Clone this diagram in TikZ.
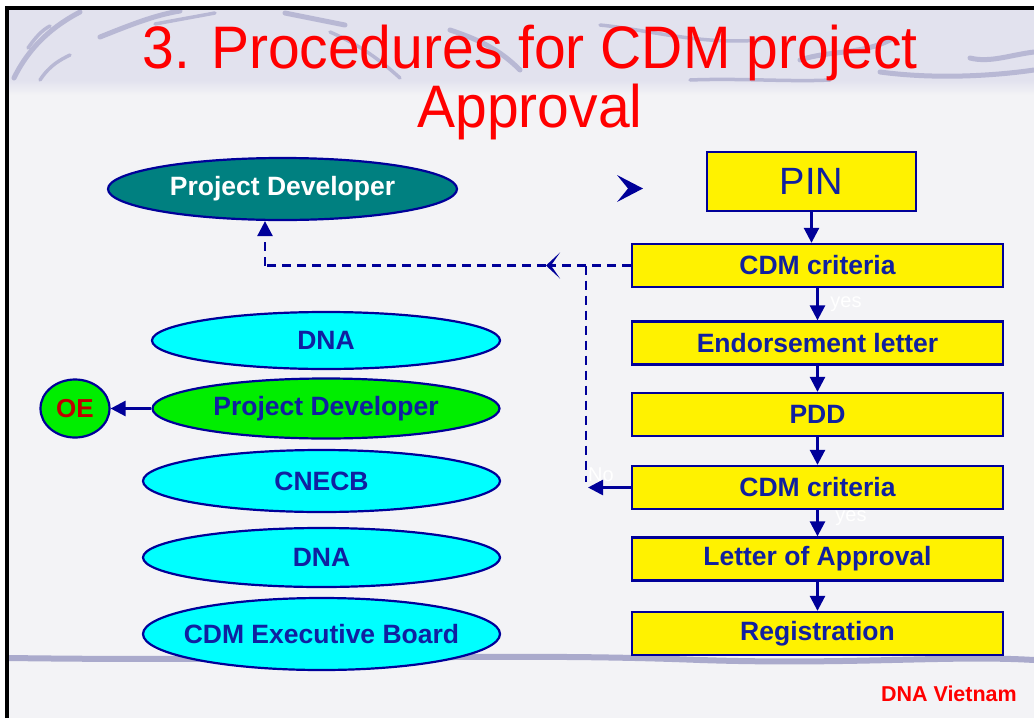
\documentclass[tikz,border=0pt]{standalone}
\usepackage{fontspec}
\setmainfont{Liberation Sans}
\newfontfamily\titlefont[FakeStretch=0.95]{Liberation Sans}
\usetikzlibrary{arrows.meta,shapes.geometric}
\definecolor{navy}{RGB}{0,0,153}
\definecolor{txtblue}{RGB}{16,32,160}
\definecolor{teal2}{RGB}{0,128,128}
\definecolor{cyan2}{RGB}{0,255,255}
\definecolor{green2}{RGB}{0,238,0}
\definecolor{oered}{RGB}{192,0,0}
\definecolor{bg}{RGB}{243,243,246}
\definecolor{band}{RGB}{226,226,238}
\definecolor{lav}{RGB}{170,170,204}
\begin{document}
\begin{tikzpicture}[x=1pt,y=-1pt,
  stepbox/.style={draw=navy, line width=2.3pt, fill=yellow, text=txtblue,
    font=\fontsize{26.5}{30}\selectfont\bfseries, minimum width=371pt,
    minimum height=43pt, inner sep=0pt},
  oval/.style={ellipse, draw=navy, line width=2.2pt, inner sep=0pt},
  lbl/.style={text=txtblue, font=\fontsize{26.5}{30}\selectfont\bfseries},
  flow/.style={draw=navy, line width=2.6pt, -{Triangle[length=15pt,width=15pt]}},
  dashln/.style={draw=navy, line width=2.6pt, dash pattern=on 9pt off 6pt},
  wlbl/.style={text=white, font=\fontsize{20}{22}\selectfont, inner sep=0pt},
  deco/.style={draw=lav, line width=5pt, line cap=round, opacity=0.75}]
\useasboundingbox (0,0) rectangle (1034,718);
% background
\fill[white] (0,0) rectangle (1034,718);
\fill[bg] (9,10) rectangle (1034,718);
\fill[band] (9,10) rectangle (1034,80);
\shade[top color=band, bottom color=bg] (9,80) rectangle (1034,95);
% decorative strokes
\draw[deco] (14,78) .. controls (30,45) and (55,25) .. (80,12);
\draw[deco, line width=3.5pt] (28,48) .. controls (35,38) and (42,30) .. (50,26);
\draw[deco, line width=3.5pt] (40,80) .. controls (50,65) and (60,60) .. (70,55);
\draw[deco] (100,37) .. controls (130,25) and (155,15) .. (180,11);
\draw[deco, line width=3.5pt] (155,24) -- (215,13);
\draw[deco] (285,13) .. controls (310,18) and (330,22) .. (345,25);
\draw[deco, line width=3.5pt] (330,32) .. controls (360,45) and (380,60) .. (400,78);
\draw[deco] (520,70) .. controls (500,50) and (480,40) .. (450,30);
\draw[deco, line width=3.5pt] (600,25) .. controls (650,30) and (700,45) .. (760,40);
\draw[deco] (800,60) .. controls (830,50) and (860,55) .. (890,40);
\draw[deco] (880,72) .. controls (940,80) and (1000,75) .. (1034,70);
\draw[deco] (970,58) .. controls (990,63) and (1010,55) .. (1034,52);
\draw[deco, line width=3.5pt] (690,80) .. controls (740,78) and (790,82) .. (830,80);
% bottom wavy line
\draw[draw=lav, line width=6pt] (9,658) .. controls (300,662) and (500,652) .. (700,660) .. controls (850,665) and (950,655) .. (1034,660);
% frame
\draw[line width=4pt] (7,718) -- (7,8) -- (1034,8);
% title
\node[anchor=base, text=red, font=\titlefont\fontsize{60}{60}\selectfont] (t1) at (530,68) {3. Procedures for CDM project};
\node[anchor=base, text=red, font=\titlefont\fontsize{60}{60}\selectfont] (t2) at (530,127) {Approval};
% chevron bullet
\fill[navy] (617,175) -- (643,188.5) -- (617,202) -- (628,188.5) -- cycle;
% right column
\node[stepbox, minimum width=209pt, minimum height=59pt, font=\fontsize{38}{40}\selectfont] (pin) at (811.5,181.5) {PIN};
\node[stepbox] (cdm1) at (817.5,265.5) {CDM criteria};
\node[stepbox] (endo) at (817.5,343) {Endorsement letter};
\node[stepbox] (pdd) at (817.5,414.5) {PDD};
\node[stepbox] (cdm2) at (817.5,487.5) {CDM criteria};
\node[stepbox] (loa) at (817.5,559) {Letter of Approval};
\node[stepbox] (reg) at (817.5,633.5) {Registration};
\draw[flow] (pin.south) -- (pin.south |- cdm1.north);
\draw[flow] (cdm1.south) -- (endo.north);
\draw[flow] (endo.south) -- (pdd.north);
\draw[flow] (pdd.south) -- (cdm2.north);
\draw[flow] (cdm2.south) -- (loa.north);
\draw[flow] (loa.south) -- (reg.north);
% left column
\node[oval, fill=teal2, minimum width=349pt, minimum height=62pt,
  label={[lbl, text=white]center:Project Developer}] (pdtop) at (282.5,189) {};
\node[oval, fill=cyan2, minimum width=348pt, minimum height=57pt,
  label={[lbl]center:DNA}] (dna1) at (326,340.5) {};
\node[oval, fill=green2, minimum width=347pt, minimum height=60pt,
  label={[lbl]center:Project Developer}] (pdg) at (326,408.5) {};
\node[oval, fill=cyan2, minimum width=357pt, minimum height=62pt,
  label={[lbl]center:CNECB}] (cnecb) at (321.5,481) {};
\node[oval, fill=cyan2, minimum width=357pt, minimum height=59pt,
  label={[lbl]center:DNA}] (dna2) at (321.5,557.5) {};
\node[oval, fill=cyan2, minimum width=357pt, minimum height=72pt,
  label={[lbl]center:CDM Executive Board}] (cdmeb) at (321.5,634) {};
\node[oval, fill=green2, minimum width=69pt, minimum height=58pt, text=oered,
  font=\fontsize{26}{28}\selectfont\bfseries] (oe) at (75,408.5) {OE};
\draw[flow] (pdg.west) -- (oe.east);
% feedback paths
\coordinate (dtip) at (546,265.5);
\coordinate (jn) at (586,265.5);
\coordinate (turn) at (265,265.5);
\coordinate (jb) at (586,482);
\coordinate (notip) at (588,487.5);
\draw[dashln, -{Stealth[length=14pt,width=26pt,inset=9pt]}] (cdm1.west) -- (dtip);
\draw[dashln] (dtip) -- (turn);
\draw[dashln, -{Triangle[length=15pt,width=15pt]}] (turn) -- (turn |- pdtop.south);
\draw[dashln] (jn) -- (jb);
\draw[flow] (cdm2.west) -- (notip);
% white labels
\node[wlbl] (yes1) at (846,304) {yes};
\node[wlbl] (yes2) at (851,518) {yes};
\node[wlbl] (no) at (601,475) {No};
% footer
\node[anchor=base east, inner sep=0pt, text=red, font=\fontsize{21.5}{24}\selectfont\bfseries] (foot) at (1017,701) {DNA Vietnam};
\end{tikzpicture}
\end{document}
